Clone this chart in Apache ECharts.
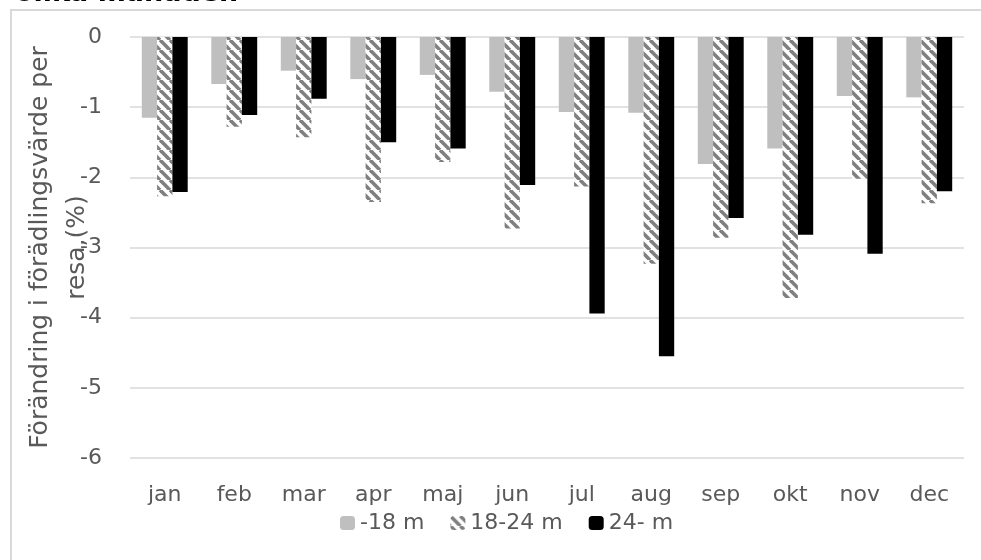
<!DOCTYPE html>
<html>
<head>
<meta charset="utf-8">
<script src="https://cdn.jsdelivr.net/npm/echarts@6/dist/echarts.min.js"></script>
<style>
html,body{margin:0;padding:0;background:#fff;}
#chart{width:981px;height:560px;}
</style>
</head>
<body>
<div id="chart"></div>
<script>
var months = ['jan','feb','mar','apr','maj','jun','jul','aug','sep','okt','nov','dec'];
var seriesNames = ['-18 m','18-24 m','24- m'];
var under18 = [-1.15,-0.67,-0.48,-0.60,-0.54,-0.78,-1.07,-1.08,-1.81,-1.59,-0.84,-0.86];
var m18to24 = [-2.27,-1.28,-1.43,-2.35,-1.78,-2.73,-2.13,-3.23,-2.86,-3.72,-2.02,-2.37];
var over24 = [-2.21,-1.11,-0.88,-1.50,-1.59,-2.11,-3.94,-4.55,-2.58,-2.82,-3.09,-2.20];
var yTicks = [0,-1,-2,-3,-4,-5,-6];
var yTitle = 'Förändring i förädlingsvärde per\nresa,(%)';
var topText = 'olika månader.';

function makeHatch(){
  var s = 10;
  var c = document.createElement('canvas');
  c.width = s; c.height = s;
  var g = c.getContext('2d');
  g.fillStyle = '#ffffff';
  g.fillRect(0,0,s,s);
  g.strokeStyle = '#7f7f7f';
  g.lineWidth = 3.6;
  [-s,0,s].forEach(function(k){
    g.beginPath();
    g.moveTo(k,0);
    g.lineTo(k+s,s);
    g.stroke();
  });
  return c;
}
var hatch = {image: makeHatch(), repeat: 'repeat'};

var FONT = 'DejaVu Sans';
var chart = echarts.init(document.getElementById('chart'), null, {renderer:'canvas'});
chart.setOption({
  animation: false,
  backgroundColor: '#ffffff',
  textStyle: {fontFamily: FONT},
  graphic: [
    {type:'rect', shape:{x:11, y:10, width:1000, height:600}, style:{fill:'none', stroke:'#d9d9d9', lineWidth:2}, silent:true},
    {type:'text', x:15, y:7, silent:true, style:{text: topText, font:'bold 27px "DejaVu Sans"', fill:'#000', verticalAlign:'bottom'}}
  ],
  grid: {left:130, right:17, top:37, bottom:102, containLabel:false, outerBoundsMode:'none'},
  legend: {
    left: 335, top: 507,
    itemWidth: 15, itemHeight: 14, itemGap: 26,
    textStyle: {fontSize: 22, color:'#595959', fontFamily: FONT},
    data: seriesNames
  },
  xAxis: {
    type:'category', data: months,
    axisLine:{show:false, onZero:false}, axisTick:{show:false},
    axisLabel:{color:'#595959', fontSize:22, margin:26, fontFamily: FONT}
  },
  yAxis: {
    type:'value', min:-6, max:0, interval:1,
    name: yTitle, nameLocation:'middle', nameRotate:90, nameGap:34, nameMoveOverlap:false,
    nameTextStyle:{fontSize:25, color:'#595959', lineHeight:37, fontFamily: FONT, align:'center'},
    axisLine:{show:false}, axisTick:{show:false},
    axisLabel:{color:'#595959', fontSize:22, margin:28, fontFamily: FONT},
    splitLine:{lineStyle:{color:'#d9d9d9', width:1.5}}
  },
  series: [
    {name: seriesNames[0], type:'bar', data: under18, barWidth:15.3, barGap:'0%', itemStyle:{color:'#bfbfbf'}},
    {name: seriesNames[1], type:'bar', data: m18to24, barWidth:15.3, barGap:'0%', itemStyle:{color: hatch}},
    {name: seriesNames[2], type:'bar', data: over24, barWidth:15.3, barGap:'0%', itemStyle:{color:'#000000'}}
  ]
});
</script>
</body>
</html>
